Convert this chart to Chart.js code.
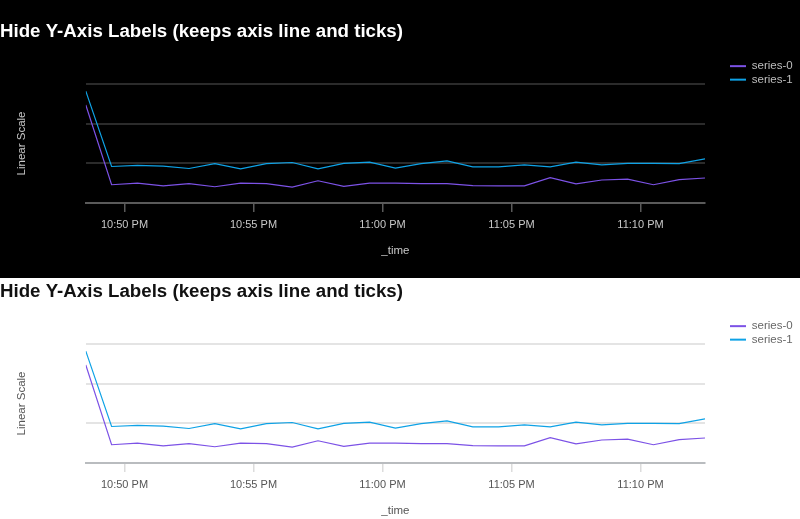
<!DOCTYPE html>
<html>
<head>
<meta charset="utf-8">
<script src="https://cdn.jsdelivr.net/npm/chart.js@4.4.1/dist/chart.umd.min.js"></script>
<style>
  html, body { margin: 0; padding: 0; overflow: hidden; background: #fff; }
  .panel { width: 800px; height: 278px; box-sizing: border-box; }
  .panel.dark { background: #000; padding-top: 18px; }
  .panel.light { background: #fff; }
  .box { position: relative; width: 800px; height: 260px; }
</style>
</head>
<body>
<div class="panel dark"><div class="box"><canvas id="darkChart"></canvas></div></div>
<div class="panel light"><div class="box"><canvas id="lightChart"></canvas></div></div>
<script>
const times = ['22:48:30', '22:49:30', '22:50:30', '22:51:30', '22:52:30', '22:53:30', '22:54:30',
  '22:55:30', '22:56:30', '22:57:30', '22:58:30', '22:59:30', '23:00:30', '23:01:30', '23:02:30',
  '23:03:30', '23:04:30', '23:05:30', '23:06:30', '23:07:30', '23:08:30', '23:09:30', '23:10:30',
  '23:11:30', '23:12:30']
const series0 = [247, 46, 50, 43, 49, 41, 50, 49, 40, 56, 42, 50, 50, 49, 49, 44, 43, 43, 64, 48, 58, 60, 46, 59, 63]
const series1 = [282, 92, 95, 93, 87, 99, 86, 99, 102, 86, 100, 103, 88, 99, 106, 91, 91, 96, 91, 103, 96, 100, 100, 99, 111]
const tickTimes = ['22:50', '22:55', '23:00', '23:05', '23:10']
const seriesNames = ['series-0', 'series-1']
const seriesColors = ['#7c52e6', '#0ea2e6']

const purple = seriesColors[0]
const blue = seriesColors[1]

function toMinutes(t) {
    const p = t.split(':').map(Number)
    return p[0] * 60 + p[1] + (p[2] || 0) / 60
}

function fmtTime(m) {
    const h = Math.floor(m / 60)
    const mm = Math.round(m % 60)
    const h12 = h % 12 || 12
    return h12 + ':' + String(mm).padStart(2, '0') + (h >= 12 ? ' PM' : ' AM')
}

const xs = times.map(toMinutes)
const tickValues = tickTimes.map(toMinutes)

Chart.defaults.font.family = '"Liberation Sans", Arial, Helvetica, sans-serif'

const themes = {
    dark: { title: '#ffffff', text: '#c8c8c8', legend: '#bdbdbd', grid: '#2b2b2b', axis: '#5a5a5a', tick: '#5a5a5a' },
    light: { title: '#111111', text: '#555555', legend: '#676767', grid: '#e4e4e4', axis: '#b9bcbf', tick: '#dcdcdc' }
}

function makeChart(id, theme) {
    const c = themes[theme]
    new Chart(document.getElementById(id), {
        type: 'line',
        data: {
            datasets: [
                { label: seriesNames[0], data: xs.map((x, i) => ({ x: x, y: series0[i] })), borderColor: purple, backgroundColor: purple },
                { label: seriesNames[1], data: xs.map((x, i) => ({ x: x, y: series1[i] })), borderColor: blue, backgroundColor: blue }
            ]
        },
        options: {
            responsive: true,
            maintainAspectRatio: false,
            animation: false,
            layout: { padding: 0 },
            elements: {
                line: { borderWidth: 1.2, tension: 0 },
                point: { radius: 0, hoverRadius: 0 }
            },
            scales: {
                x: {
                    type: 'linear',
                    min: xs[0],
                    max: xs[xs.length - 1],
                    afterBuildTicks: scale => { scale.ticks = tickValues.map(v => ({ value: v })) },
                    ticks: { color: c.text, font: { size: 11 }, padding: 6, maxRotation: 0, callback: v => fmtTime(v) },
                    grid: { drawOnChartArea: false, drawTicks: true, tickLength: 9, color: c.tick, lineWidth: 1.5 },
                    border: { display: true, color: c.axis, width: 2 },
                    title: { display: true, text: '_time', color: c.text, font: { size: 11.5 }, padding: { top: 7, bottom: 20 } }
                },
                y: {
                    min: 0,
                    max: 300,
                    ticks: { display: false, stepSize: 100 },
                    grid: { color: c.grid, lineWidth: 2, drawTicks: false },
                    border: { display: false },
                    title: { display: true, text: 'Linear Scale', color: c.text, font: { size: 11.5 }, padding: { top: 15, bottom: 57 } }
                },
                pad: {
                    type: 'linear',
                    position: 'right',
                    grid: { display: false },
                    border: { display: false },
                    ticks: { display: false },
                    afterFit: scale => { scale.width = 23 }
                }
            },
            plugins: {
                title: {
                    display: true,
                    text: 'Hide Y-Axis Labels (keeps axis line and ticks)',
                    align: 'start',
                    color: c.title,
                    font: { size: 18.7, weight: 'bold' },
                    padding: { top: 3, bottom: 40.5 }
                },
                legend: {
                    position: 'right',
                    align: 'start',
                    maxWidth: 72,
                    title: { display: true, text: '', padding: { top: 26, bottom: 0 } },
                    labels: {
                        color: c.legend,
                        font: { size: 11.5 },
                        usePointStyle: true,
                        pointStyle: 'line',
                        pointStyleWidth: 16,
                        padding: 2,
                        generateLabels: chart => Chart.defaults.plugins.legend.labels.generateLabels(chart)
                            .map(l => Object.assign(l, { lineWidth: 2 }))
                    }
                },
                tooltip: { enabled: false }
            }
        }
    })
}

makeChart('darkChart', 'dark')
makeChart('lightChart', 'light')
</script>
</body>
</html>
